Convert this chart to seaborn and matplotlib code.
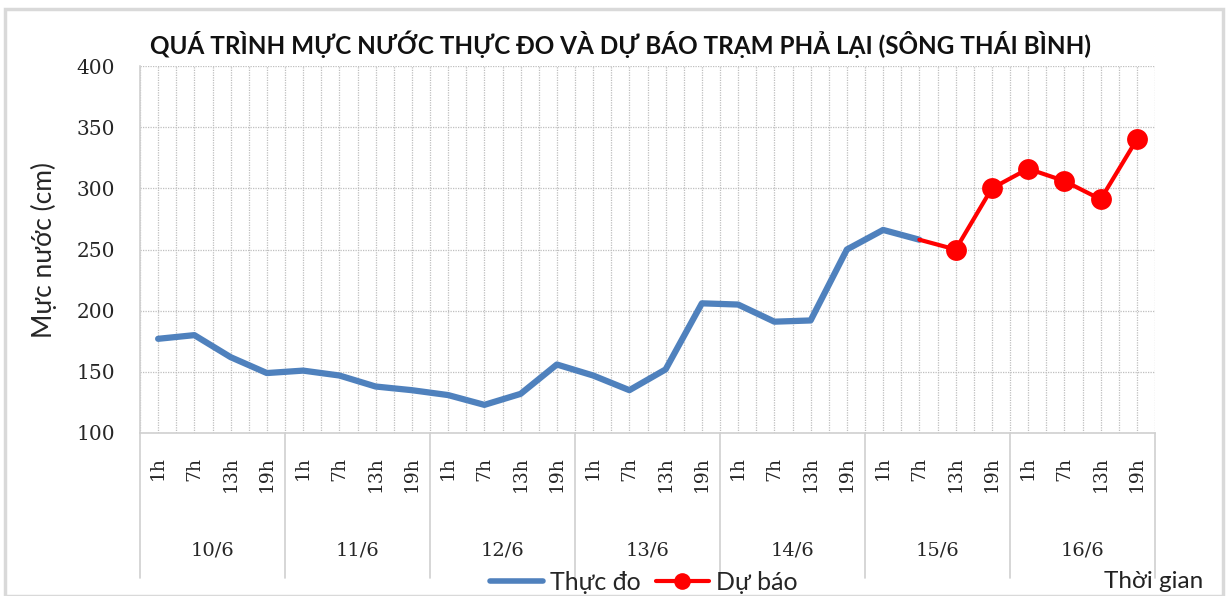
import matplotlib.pyplot as plt
import matplotlib.patches as mpatches
import matplotlib.lines as mlines
import numpy as np
import pandas as pd
import seaborn as sns

# data
days = ['10/6', '11/6', '12/6', '13/6', '14/6', '15/6', '16/6']
hours = ['1h', '7h', '13h', '19h']
observed = [177, 180, 162, 149, 151, 147, 138, 135, 131, 123, 132, 156,
            147, 135, 152, 206, 205, 191, 192, 250, 266, 258]
forecast = [258, 250, 300, 316, 306, 291, 340]   # starts at 15/6 7h

tick_labels = hours * len(days)
n = len(tick_labels)
df_obs = pd.DataFrame({'x': np.arange(len(observed)), 'value': observed})
df_fc = pd.DataFrame({'x': np.arange(n - len(forecast), n), 'value': forecast})

sns.set_style('white')
plt.rcParams['font.family'] = ['DejaVu Sans']

W, H = 1227, 596
fig = plt.figure(figsize=(W / 100, H / 100), dpi=100)
ax = fig.add_axes([140 / W, 1 - 433 / H, 1015 / W, 367 / H])

blue = '#4F81BD'
red = '#FF0000'
sns.lineplot(data=df_obs, x='x', y='value', ax=ax, color=blue, linewidth=4.5)
sns.lineplot(data=df_fc, x='x', y='value', ax=ax, color=red, linewidth=3,
             marker='o', markersize=15, markeredgewidth=0,
             markevery=list(range(1, len(forecast))))

ax.set_xlim(-0.5, n - 0.5)
ax.set_ylim(100, 400)
ax.set_yticks(np.arange(100, 401, 50))
ax.set_xticks(np.arange(n))
ax.set_xticks(np.arange(-0.5, n, 1), minor=True)
ax.set_xticklabels(tick_labels, rotation=90, va='top', ha='center',
                   family='DejaVu Serif', fontsize=13.5)
ax.tick_params(axis='x', which='both', length=0, pad=17)
ax.tick_params(axis='y', length=0, pad=18, labelsize=14.5)
for t in ax.get_yticklabels():
    t.set_family('DejaVu Serif')
ax.set_xlabel('')
ax.set_ylabel('')

grid_kw = dict(color='#BFBFBF', linestyle=(0, (1, 1)), linewidth=0.9)
ax.grid(True, which='major', axis='both', **grid_kw)
ax.grid(True, which='minor', axis='x', **grid_kw)
ax.set_axisbelow(True)
for s in ['top', 'right']:
    ax.spines[s].set_visible(False)
for s in ['left', 'bottom']:
    ax.spines[s].set_color('#D0D0D0')
    ax.spines[s].set_linewidth(1.2)

# day labels and separators under the axis
trans = ax.get_xaxis_transform()
for i, d in enumerate(days):
    ax.text(4 * i + 1.5, -0.319, d, transform=trans, ha='center', va='center',
            family='DejaVu Serif', fontsize=14)
for i in range(len(days) + 1):
    ax.plot([4 * i - 0.5, 4 * i - 0.5], [0, -0.395], transform=trans,
            color='#D0D0D0', lw=1.2, clip_on=False)

fig.text(621 / W, 1 - 44 / H,
         'QUÁ TRÌNH MỰC NƯỚC THỰC ĐO VÀ DỰ BÁO TRẠM PHẢ LẠI (SÔNG THÁI BÌNH)',
         ha='center', va='center', fontsize=17.5, fontweight='bold',
         family='Lato', color='#111111')
fig.text(44 / W, 1 - 250 / H, 'Mực nước (cm)', rotation=90, ha='center',
         va='center', fontsize=19, family='Lato')
fig.text(1154 / W, 1 - 582 / H, 'Thời gian', ha='center', va='center',
         fontsize=17.5, family='Lato', color='#222222')

h1 = mlines.Line2D([], [], color=blue, lw=4)
h2 = mlines.Line2D([], [], color=red, lw=3, marker='o', markersize=12,
                   markeredgewidth=0)
fig.legend([h1, h2], ['Thực đo', 'Dự báo'], loc='center',
           bbox_to_anchor=(644 / W, 1 - 582 / H), ncol=2, frameon=False,
           prop={'family': 'Lato', 'size': 18}, handlelength=2.1,
           handletextpad=0.3, columnspacing=0.6)

fig.patches.append(mpatches.Rectangle((5 / W, 0), 1218 / W, 1 - 9 / H,
                                      transform=fig.transFigure, fill=False,
                                      edgecolor='#D9D9D9', lw=2.5))

fig.savefig('out.png', dpi=100)
